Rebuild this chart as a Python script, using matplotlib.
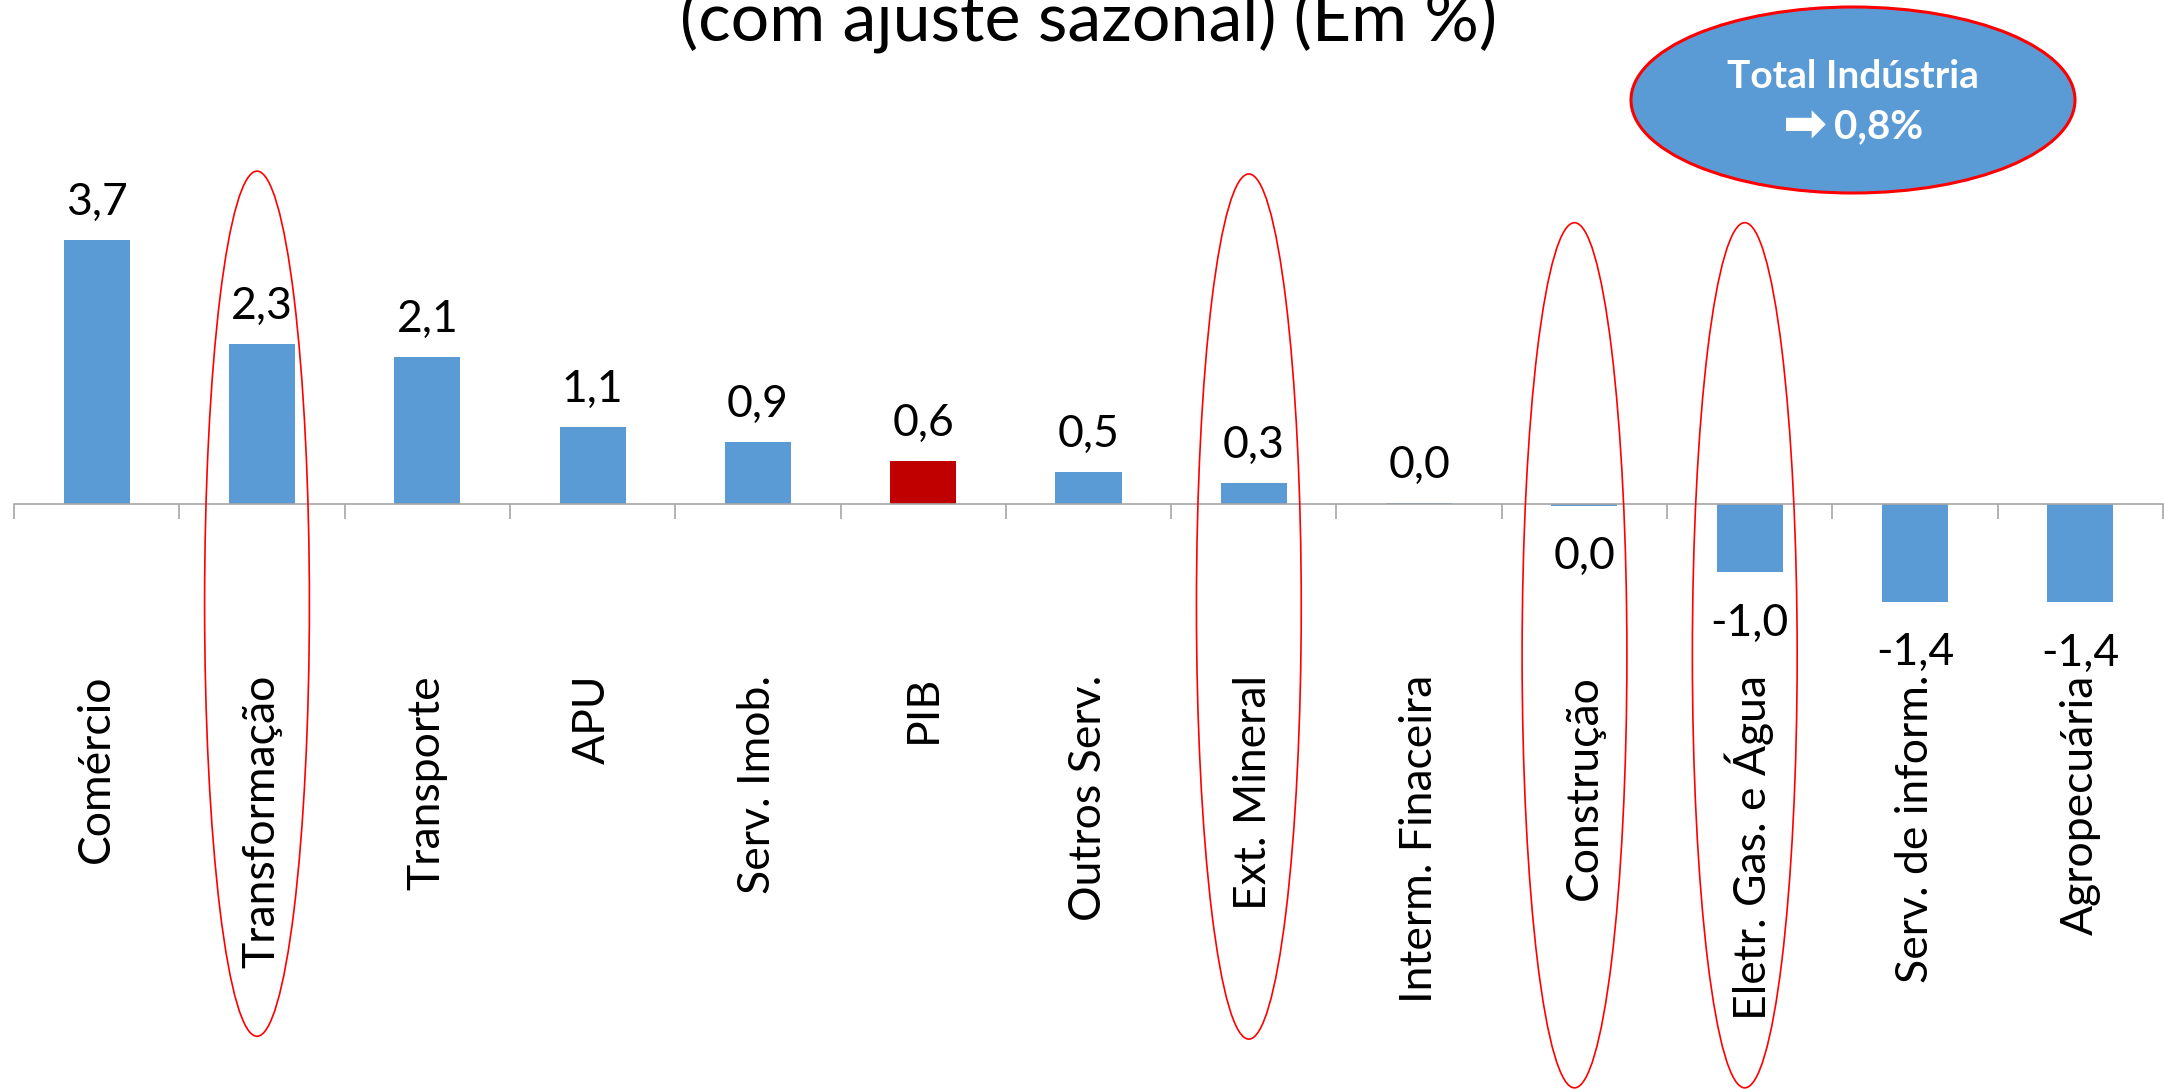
import matplotlib
matplotlib.use('Agg')
import matplotlib.pyplot as plt
from matplotlib.patches import Ellipse
import numpy as np

# Data (% change, seasonally adjusted)
categories = ['Comércio', 'Transformação', 'Transporte', 'APU', 'Serv. Imob.', 'PIB',
              'Outros Serv.', 'Ext. Mineral', 'Interm. Finaceira', 'Construção',
              'Eletr. Gas. e Água', 'Serv. de inform.', 'Agropecuária']
values = [3.74, 2.27, 2.08, 1.09, 0.88, 0.61, 0.46, 0.30, 0.01, -0.02, -0.96, -1.38, -1.39]
highlight = ['Transformação', 'Ext. Mineral', 'Construção', 'Eletr. Gas. e Água']
total_industria = 0.8

blue = '#5B9BD5'
red_bar = '#C00000'
font = ['Lato', 'DejaVu Sans']
plt.rcParams['font.family'] = font


def fmt(v):
    s = f'{v:.1f}'
    if s == '-0.0':
        s = '0.0'
    return s.replace('.', ',')


fig = plt.figure(figsize=(21.65, 10.89), dpi=100)
ax = fig.add_axes([14 / 2165, 1 - 716 / 1089, (2163 - 14) / 2165, 565 / 1089])

x = np.arange(len(categories))
colors = [red_bar if c == 'PIB' else blue for c in categories]
ax.bar(x, values, width=0.4, color=colors, zorder=2)

ax.set_xlim(-0.5, len(categories) - 0.5)
ax.set_ylim(-3, 5)

# axis line at zero with category separators
for s in ['top', 'right', 'left']:
    ax.spines[s].set_visible(False)
ax.spines['bottom'].set_position(('data', 0))
ax.spines['bottom'].set_color('#A6A6A6')
ax.spines['bottom'].set_linewidth(1.2)
ax.set_yticks([])
ax.set_xticks(x)
ax.set_xticklabels(categories, rotation=90, fontsize=32)
ax.set_xticks(np.arange(-0.5, len(categories), 1), minor=True)
ax.tick_params(axis='x', which='major', length=0, pad=123)
ax.tick_params(axis='x', which='minor', length=11, width=1.2, color='#A6A6A6', direction='out')

# value labels
for i, v in enumerate(values):
    if v >= 0:
        ax.annotate(fmt(v), (i, v), xytext=(0, 18), textcoords='offset points',
                    ha='center', va='baseline', fontsize=32)
    else:
        ax.annotate(fmt(v), (i, v), xytext=(0, -22), textcoords='offset points',
                    ha='center', va='top', fontsize=32)

# red ellipses around industry components
hl_dx = [-0.03, -0.03, -0.06, -0.03]
hl_cy = [-1.41, -1.45, -2.14, -2.14]
for name, dx, cy in zip(highlight, hl_dx, hl_cy):
    i = categories.index(name)
    ax.add_patch(Ellipse((i + dx, cy), width=0.634, height=12.25, fill=False,
                         edgecolor='#FF0000', linewidth=1.2, clip_on=False, zorder=3))

# title (its first line falls above the frame, as in the source slide)
fig.text(1089 / 2165, 1 - 42 / 1089, '(com ajuste sazonal) (Em %)', ha='center',
         va='baseline', fontsize=49, color='black')

# Total Industria badge
fig.add_artist(Ellipse((1853 / 2165, 1 - 100 / 1089), width=444 / 2165, height=186 / 1089,
                       transform=fig.transFigure, facecolor=blue, edgecolor='#FF0000',
                       linewidth=2.2))
fig.text(1853 / 2165, 1 - 77 / 1089, 'Total Indústria', ha='center', va='center',
         fontsize=28, fontweight='bold', color='white')
fig.text(1879 / 2165, 1 - 127 / 1089, fmt(total_industria) + '%', ha='center',
         va='center', fontsize=29, fontweight='bold', color='white')
fig.text(1805 / 2165, 1 - 126 / 1089, '➡', ha='center', va='center',
         fontsize=38, fontweight='bold', color='white', family=['DejaVu Sans'])

fig.savefig('out.png', dpi=100)
